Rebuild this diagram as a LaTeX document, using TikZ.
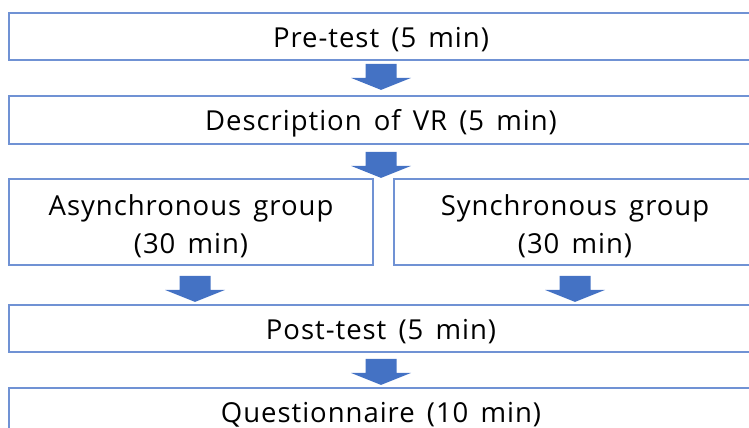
\documentclass[tikz,border=0pt]{standalone}
\usepackage{fontspec}
\setmainfont{Open Sans}[LetterSpace=3.5, WordSpace=1.5]
\usetikzlibrary{calc}
\definecolor{boxline}{RGB}{112,146,212}
\definecolor{arrowfill}{RGB}{68,114,196}
% lower a line of text without changing its reported size
\newcommand{\lowtext}[2][3pt]{\raisebox{-#1}[\height][\depth]{#2}}
\tikzset{
  stagebox/.style={draw=boxline, line width=1.8pt, fill=white, inner sep=0pt,
    font=\fontsize{27.5}{38}\selectfont, align=center},
  blockarrow/.pic={
    \fill[arrowfill] (-15.5,0) -- (15.5,0) -- (15.5,14) -- (30,14) -- (0,26)
      -- (-30,14) -- (-15.5,14) -- cycle;
  }
}
\begin{document}
\begin{tikzpicture}[x=1pt,y=-1pt]
  \useasboundingbox (0,0) rectangle (749,428);
  % stages of the session
  \node[stagebox, minimum width=744pt, minimum height=47pt] (pre) at (381,36.5) {\lowtext{Pre-test (5 min)}};
  \node[stagebox, minimum width=744pt, minimum height=48pt] (desc) at (381,120) {\lowtext{Description of VR (5 min)}};
  \node[stagebox, minimum width=364pt, minimum height=86pt] (async) at (191,222) {\lowtext[4pt]{Asynchronous group}\\\lowtext[4pt]{(30 min)}};
  \node[stagebox, minimum width=362pt, minimum height=86pt] (sync) at (575,222) {\lowtext[4pt]{Synchronous group}\\\lowtext[4pt]{(30 min)}};
  \node[stagebox, minimum width=744pt, minimum height=47pt] (post) at (381,328.5) {\lowtext{Post-test (5 min)}};
  \node[stagebox, minimum width=744pt, minimum height=47pt] (quest) at (381,411.5) {\lowtext{Questionnaire (10 min)}};
  % block arrows between stages
  \pic at ($(pre.south)+(0,3)$) {blockarrow};
  \pic at ($(desc.south)+(0,7)$) {blockarrow};
  \pic at ($(async.south)+(4,10)$) {blockarrow};
  \pic at ($(sync.south)+(0,10)$) {blockarrow};
  \pic at ($(post.south)+(0,6)$) {blockarrow};
\end{tikzpicture}
\end{document}
